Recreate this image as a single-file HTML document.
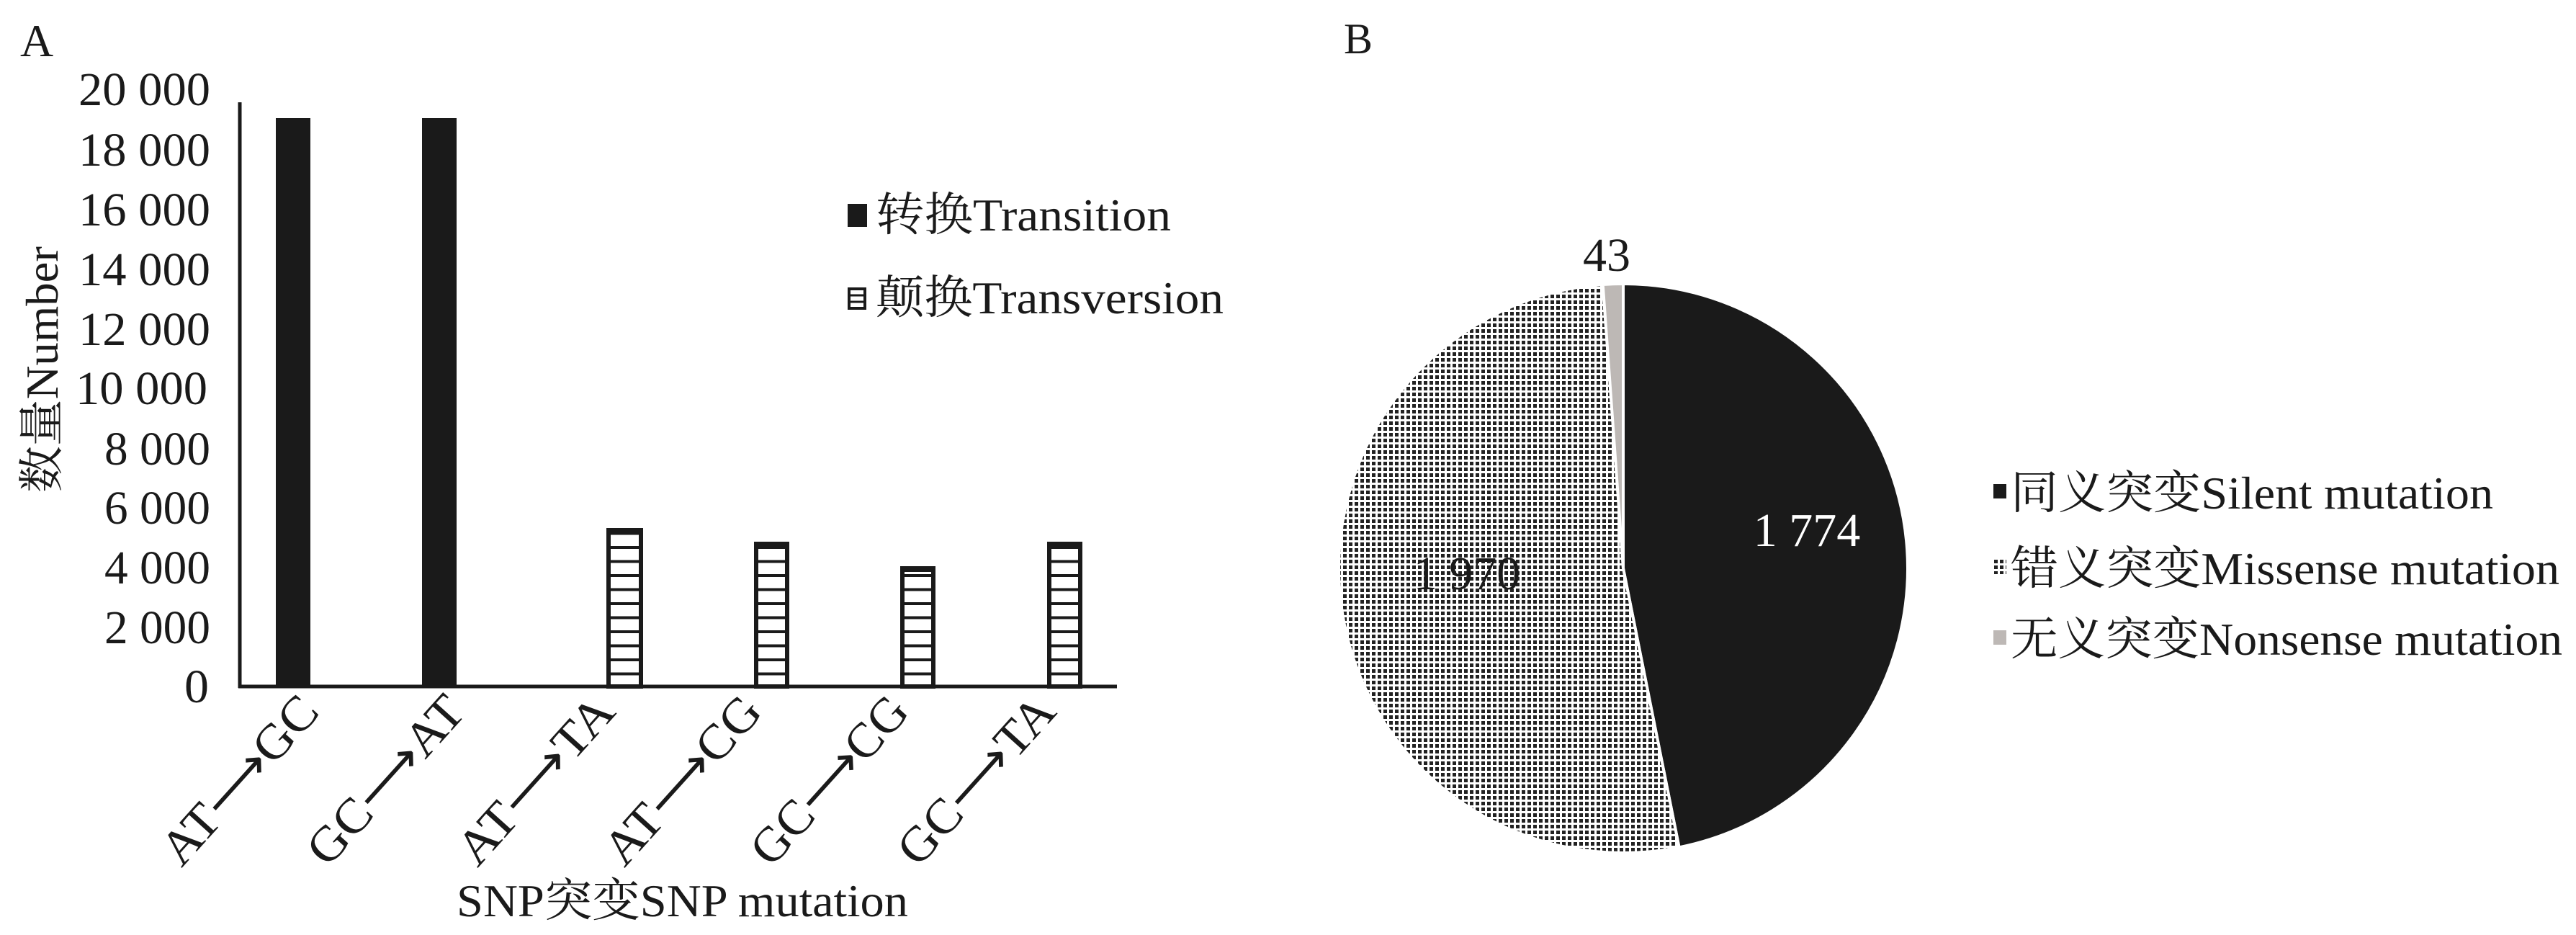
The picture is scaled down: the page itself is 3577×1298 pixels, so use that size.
<!DOCTYPE html>
<html><head><meta charset="utf-8"><style>
html,body{margin:0;padding:0;background:#fff;}
svg{display:block;}
text{font-family:"Liberation Serif","Noto Serif CJK SC","Noto Sans CJK SC",serif;fill:#1a1a1a;}
</style></head><body>
<svg width="3577" height="1298" viewBox="0 0 3577 1298" xmlns="http://www.w3.org/2000/svg">
<defs>
<pattern id="dots" width="8" height="8" patternUnits="userSpaceOnUse">
<rect width="8" height="8" fill="#fff"/><rect x="1" y="1" width="5" height="5" fill="#222"/>
</pattern>
<pattern id="stripe" width="20" height="19.5" patternUnits="userSpaceOnUse" y="953">
<rect width="20" height="19.5" fill="#fff"/><rect y="0" width="20" height="4" fill="#1a1a1a"/>
</pattern>
</defs>
<rect width="3577" height="1298" fill="#fff"/>
<text x="28" y="78" font-size="64">A</text>
<text x="1866" y="74" font-size="60">B</text>

<!-- axes -->
<line x1="333" y1="142" x2="333" y2="955" stroke="#1a1a1a" stroke-width="5"/>
<line x1="331" y1="953" x2="1551" y2="953" stroke="#1a1a1a" stroke-width="5"/>

<!-- y ticks -->
<g font-size="66" text-anchor="end">
<text x="292" y="146" textLength="183" lengthAdjust="spacingAndGlyphs">20 000</text>
<text x="292" y="230" textLength="183" lengthAdjust="spacingAndGlyphs">18 000</text>
<text x="292" y="313" textLength="183" lengthAdjust="spacingAndGlyphs">16 000</text>
<text x="292" y="396" textLength="183" lengthAdjust="spacingAndGlyphs">14 000</text>
<text x="292" y="479" textLength="183" lengthAdjust="spacingAndGlyphs">12 000</text>
<text x="288" y="561" textLength="183" lengthAdjust="spacingAndGlyphs">10 000</text>
<text x="292" y="645" textLength="147" lengthAdjust="spacingAndGlyphs">8 000</text>
<text x="292" y="727" textLength="147" lengthAdjust="spacingAndGlyphs">6 000</text>
<text x="292" y="810" textLength="147" lengthAdjust="spacingAndGlyphs">4 000</text>
<text x="292" y="893" textLength="147" lengthAdjust="spacingAndGlyphs">2 000</text>
<text x="290" y="975" textLength="34" lengthAdjust="spacingAndGlyphs">0</text>
</g>
<text transform="translate(80,513) rotate(-90)" font-size="64" text-anchor="middle" textLength="342" lengthAdjust="spacingAndGlyphs">数量Number</text>

<!-- bars -->
<rect x="383" y="164" width="48" height="789" fill="#1a1a1a"/>
<rect x="586" y="164" width="48" height="789" fill="#1a1a1a"/>
<g stroke="#1a1a1a" stroke-width="6" fill="url(#stripe)">
<rect x="845" y="736" width="45" height="217"/>
<rect x="1050" y="755" width="43" height="198"/>
<rect x="1253" y="789" width="43" height="164"/>
<rect x="1457" y="755" width="43" height="198"/>
</g>
<g fill="#1a1a1a">
<rect x="842" y="733" width="51" height="8"/>
<rect x="1047" y="752" width="49" height="8"/>
<rect x="1250" y="786" width="49" height="8"/>
<rect x="1454" y="752" width="49" height="8"/>
</g>

<!-- legend A -->
<rect x="1177" y="283" width="27" height="32" fill="#1a1a1a"/>
<text x="1216" y="320" font-size="64" textLength="410" lengthAdjust="spacingAndGlyphs">转换Transition</text>
<rect x="1179" y="401" width="22" height="27" fill="#fff" stroke="#1a1a1a" stroke-width="4"/>
<line x1="1179" y1="410" x2="1201" y2="410" stroke="#1a1a1a" stroke-width="3"/>
<line x1="1179" y1="419" x2="1201" y2="419" stroke="#1a1a1a" stroke-width="3"/>
<text x="1216" y="435" font-size="64" textLength="483" lengthAdjust="spacingAndGlyphs">颠换Transversion</text>

<!-- x labels -->
<g font-size="68" text-anchor="end">
<text transform="translate(446,990) rotate(-48)" textLength="290" lengthAdjust="spacingAndGlyphs">AT⟶GC</text>
<text transform="translate(649,990) rotate(-48)" textLength="290" lengthAdjust="spacingAndGlyphs">GC⟶AT</text>
<text transform="translate(857,990) rotate(-48)" textLength="290" lengthAdjust="spacingAndGlyphs">AT⟶TA</text>
<text transform="translate(1061,990) rotate(-48)" textLength="290" lengthAdjust="spacingAndGlyphs">AT⟶CG</text>
<text transform="translate(1265,990) rotate(-48)" textLength="290" lengthAdjust="spacingAndGlyphs">GC⟶CG</text>
<text transform="translate(1469,990) rotate(-48)" textLength="290" lengthAdjust="spacingAndGlyphs">GC⟶TA</text>
</g>
<text x="634" y="1272" font-size="64" textLength="627" lengthAdjust="spacingAndGlyphs">SNP突变SNP mutation</text>

<!-- pie: center 2254,789 r 395 -->
<path d="M2254,789 L2254,394 A395,395 0 0 1 2331.6,1176.3 Z" fill="#1a1a1a" stroke="#fff" stroke-width="4"/>
<path d="M2254,789 L2331.6,1176.3 A395,395 0 1 1 2225.7,395 Z" fill="url(#dots)" stroke="#fff" stroke-width="4"/>
<path d="M2254,789 L2225.7,395 A395,395 0 0 1 2254,394 Z" fill="#bdb8b5" stroke="#fff" stroke-width="4"/>

<text x="2231" y="376" font-size="66" text-anchor="middle">43</text>
<text x="2509" y="758" font-size="66" text-anchor="middle" style="fill:#fff">1 774</text>
<text x="2037" y="818" font-size="66" text-anchor="middle">1 970</text>

<!-- legend B -->
<rect x="2768" y="672" width="18" height="20" fill="#1a1a1a"/>
<text x="2792" y="706" font-size="64" textLength="670" lengthAdjust="spacingAndGlyphs">同义突变Silent mutation</text>
<rect x="2768" y="777" width="18" height="20" fill="url(#dots)"/>
<text x="2792" y="811" font-size="64" textLength="762" lengthAdjust="spacingAndGlyphs">错义突变Missense mutation</text>
<rect x="2768" y="875" width="18" height="20" fill="#bdb8b5"/>
<text x="2792" y="909" font-size="64" textLength="766" lengthAdjust="spacingAndGlyphs">无义突变Nonsense mutation</text>
</svg>
</body></html>
